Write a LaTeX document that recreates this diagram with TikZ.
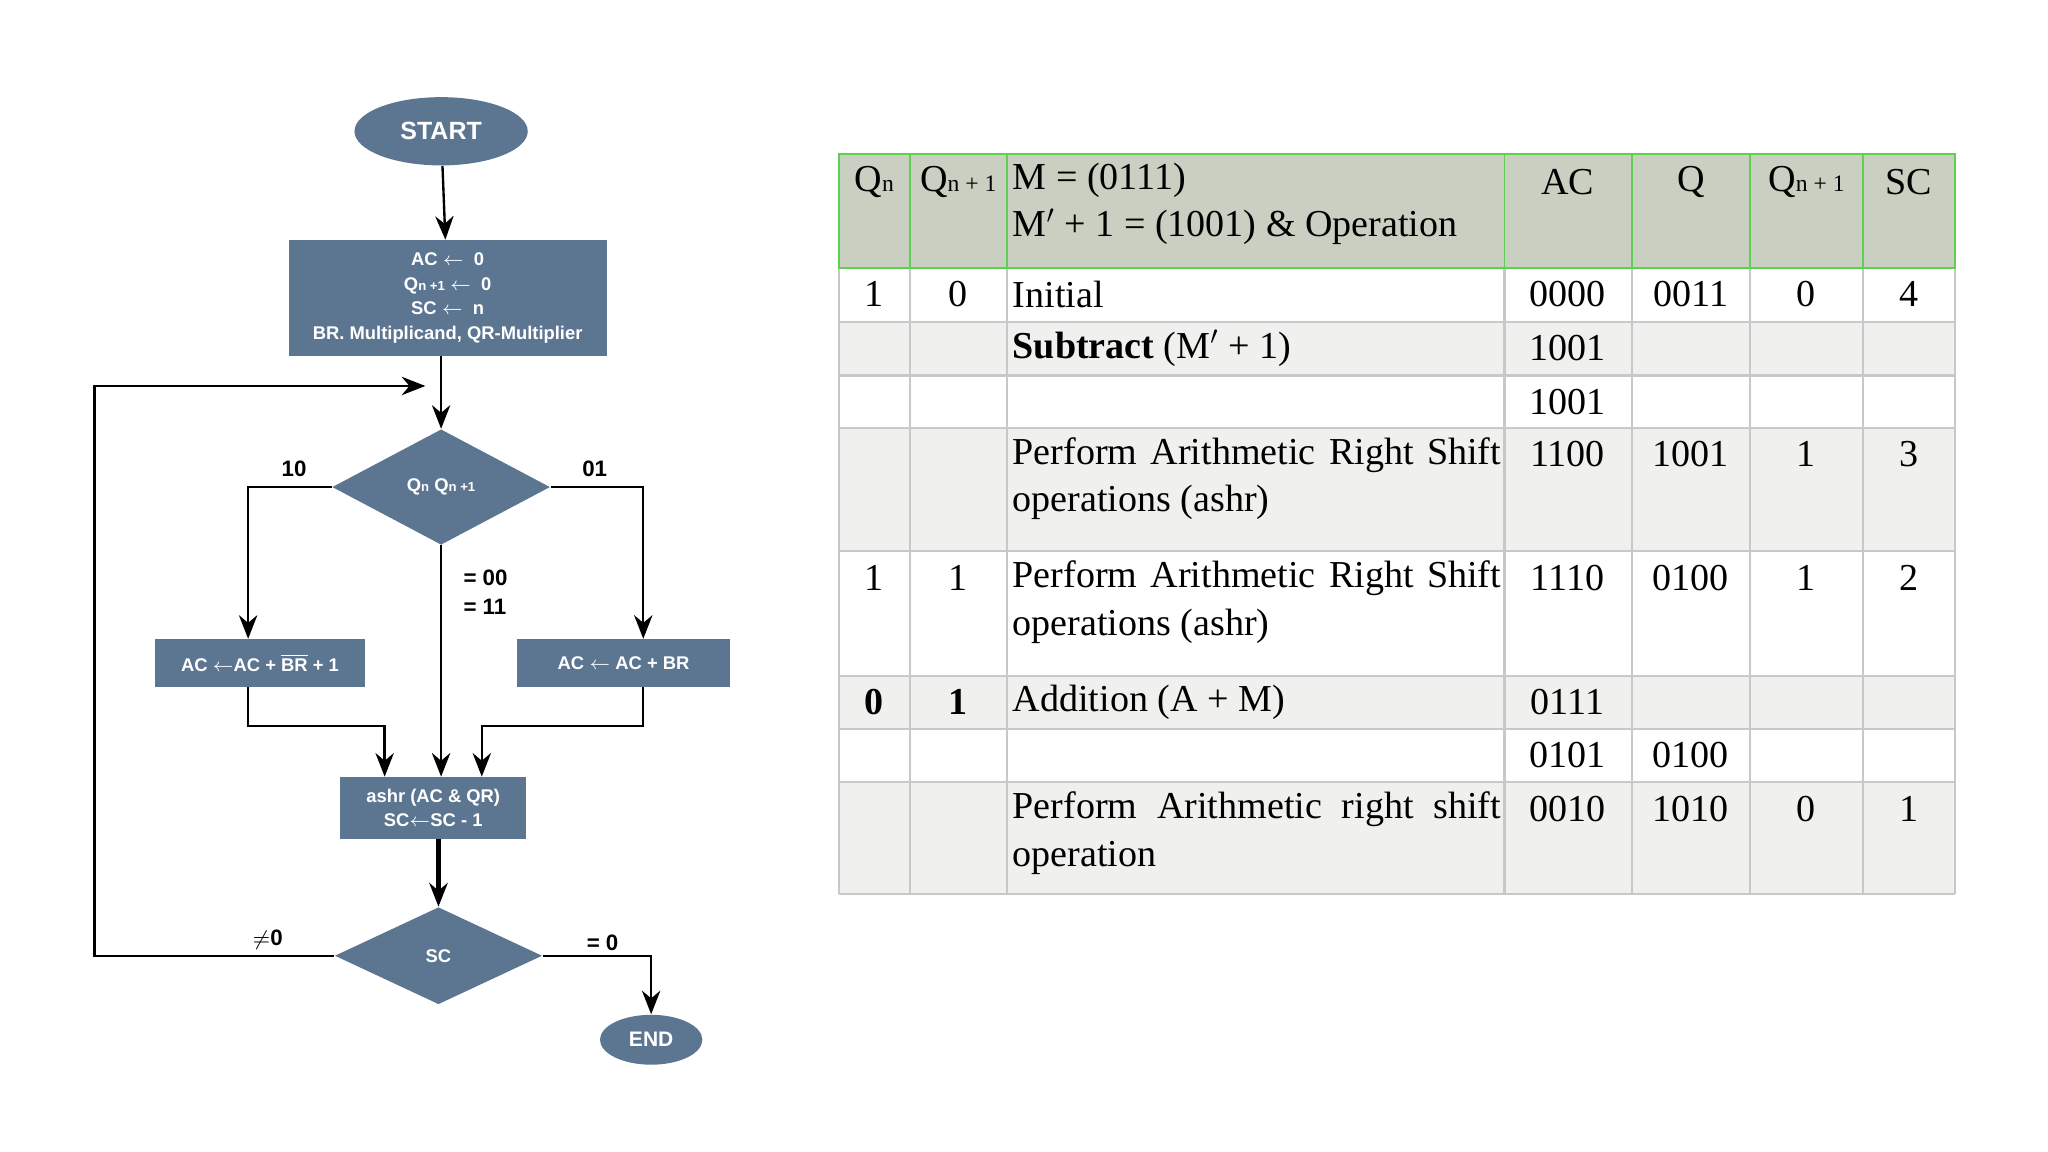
\documentclass[tikz,border=0pt]{standalone}
\usepackage{fontspec}
\setmainfont{Liberation Serif}
\newfontfamily\fsans{Liberation Sans}
\usetikzlibrary{shapes.geometric,arrows.meta}
\definecolor{fc}{HTML}{5C7692}
\definecolor{hd}{HTML}{C9CFC1}
\definecolor{gb}{HTML}{5FCF4F}
\definecolor{rg}{HTML}{F0F0EE}
\definecolor{gl}{HTML}{C8C8C8}
\tikzset{
 fl/.style={fill=fc,text=white,font=\fsans\bfseries\fontsize{7}{9}\selectfont,inner sep=0pt},
 term/.style={fl,ellipse,font=\fsans\bfseries\fontsize{9.5}{11}\selectfont},
 box/.style={fl,rectangle,align=center},
 dec/.style={fl,diamond,inner sep=0pt},
 con/.style={line width=0.9pt,-{Stealth[length=9pt,width=7pt]}},
 line/.style={line width=0.9pt},
 lab/.style={font=\fsans\bfseries\fontsize{8.5}{10}\selectfont},
 tc/.style={font=\fontsize{14.5}{18}\selectfont,inner sep=0pt},
}
\newcommand{\sm}[1]{{\fontsize{9}{10}\selectfont #1}}
\begin{document}
\begin{tikzpicture}[x=0.5pt,y=-0.5pt]
\useasboundingbox (0,0) rectangle (1560,877.5);
% ---------- flowchart ----------
\node[term,minimum width=66pt,minimum height=26pt] (start) at (336,100) {START};
\node[box,minimum width=121pt,minimum height=44pt] (init) at (341,227) {};
\node[box,font=\fsans\bfseries\fontsize{7}{9.3}\selectfont] (initt) at (341,227) {AC $\leftarrow$\ \ 0\\Q\sm{\tiny n +1} $\leftarrow$\ \ 0\\SC $\leftarrow$\ \ n\\BR. Multiplicand, QR-Multiplier};
\coordinate (jn) at (336,294);
\coordinate (lp) at (72,294);
\node[dec,minimum width=83pt,minimum height=44pt] (d1) at (336,371) {Q{\tiny n} Q{\tiny n +1}};
\node[box,minimum width=80pt,minimum height=18pt] (lb) at (198,505) {AC $\leftarrow$AC + $\overline{\mbox{BR}}$ + 1};
\node[box,minimum width=81pt,minimum height=18pt] (rb) at (475,505) {AC $\leftarrow$ AC + BR};
\node[box,minimum width=71pt,minimum height=23.5pt] (ash) at (330,615.5) {ashr (AC \& QR)\\SC$\leftarrow$SC - 1};
\node[dec,minimum width=79pt,minimum height=37pt] (d2) at (334,728) {SC};
\node[term,minimum width=39pt,minimum height=19pt,font=\fsans\bfseries\fontsize{8}{10}\selectfont] (end) at (496,792) {END};
\coordinate (l1) at (189,371); \coordinate (r1) at (490,371);
\coordinate (l2) at (189,553); \coordinate (r2) at (490,553);
\coordinate (l3) at (293,553); \coordinate (r3) at (367,553);
\coordinate (s1) at (72,728); \coordinate (e1) at (496,728);
\draw[con] (start) -- (init);
\draw[line] (init.south -| jn) -- (jn);
\draw[con] (jn) -- (d1.north);
\draw[con] (d2.west) -- (s1) -- (lp) -- ([xshift=-6]jn);
\draw[con] (d1.west) -- (l1) -- (l1 |- lb.north);
\draw[con] (d1.east) -- (r1) -- (r1 |- rb.north);
\draw[con] (d1.south) -- (d1.south |- ash.north);
\draw[con] (l1 |- lb.south) -- (l2) -- (l3) -- (l3 |- ash.north);
\draw[con] (r1 |- rb.south) -- (r2) -- (r3) -- (r3 |- ash.north);
\draw[con,line width=2pt] (ash.south -| d2) -- (d2.north);
\draw[con] (d2.east) -- (e1) -- (end.north);
\node[lab] at (224,357) {10};
\node[lab] at (453,357) {01};
\node[lab,anchor=west] at (346,440) {= 00};
\node[lab,anchor=west] at (346,462) {= 11};
\node[lab] at (204,716) {$\neq$0};
\node[lab] at (459,718) {= 0};
% ---------- table ----------
\fill[hd] (639,117) rectangle (1489,204);
\fill[rg] (639,245) rectangle (1489,286);
\fill[rg] (639,326) rectangle (1489,420);
\fill[rg] (639,515) rectangle (1489,555);
\fill[rg] (639,596) rectangle (1489,681);
\foreach \y in {204,245,286,326,420,515,555,596,681}
  \draw[gl,line width=0.8pt] (639,\y) -- (1489,\y);
\foreach \x in {639,693,767,1146,1243,1333,1419,1489}
  \draw[gl,line width=0.8pt] (\x,204) -- (\x,681);
\draw[gb,line width=0.8pt] (639,117) rectangle (1489,204);
\foreach \x in {693,767,1146,1243,1333,1419}
  \draw[gb,line width=0.6pt] (\x,117) -- (\x,204);
% header
\node[tc] (h1) at (666,139) {Q\sm{n}};
\node[tc] (h2) at (730,139) {Q\sm{n + 1}};
\node[tc,anchor=north west,align=left] (h3) at (771,124) {M = (0111)\\M$'$ + 1 = (1001) \& Operation};
\node[tc] (h4) at (1194,139) {AC};
\node[tc] (h5) at (1288,139) {Q};
\node[tc] (h6) at (1376,139) {Q\sm{n + 1}};
\node[tc] (h7) at (1454,139) {SC};
% rows
\newcommand{\rowc}[8]{%
 \node[tc] at (666,#1) {#2}; \node[tc] at (730,#1) {#3};
 \node[tc] at (1194,#1) {#4}; \node[tc] at (1288,#1) {#5};
 \node[tc] at (1376,#1) {#6}; \node[tc] at (1454,#1) {#7};}
\rowc{224}{1}{0}{0000}{0011}{0}{4}{}
\rowc{265}{}{}{1001}{}{}{}{}
\rowc{306}{}{}{1001}{}{}{}{}
\rowc{346}{}{}{1100}{1001}{1}{3}{}
\rowc{440}{1}{1}{1110}{0100}{1}{2}{}
\rowc{535}{\textbf{0}}{\textbf{1}}{0111}{}{}{}{}
\rowc{575}{}{}{0101}{0100}{}{}{}
\rowc{616}{}{}{0010}{1010}{0}{1}{}
\tikzset{op/.style={tc,anchor=west}}
\node[op] at (771,224) {Initial};
\node[op] at (771,265) {\textbf{Subtract} (M$'$ + 1)};
\tikzset{opj/.style={tc,anchor=north west,text width=186pt,align=justify}}
\node[opj] at (771,333) {Perform Arithmetic Right Shift operations (ashr)};
\node[opj] at (771,427) {Perform Arithmetic Right Shift operations (ashr)};
\node[op] at (771,535) {Addition (A + M)};
\node[opj] at (771,603) {Perform Arithmetic right shift operation};
\end{tikzpicture}
\end{document}
